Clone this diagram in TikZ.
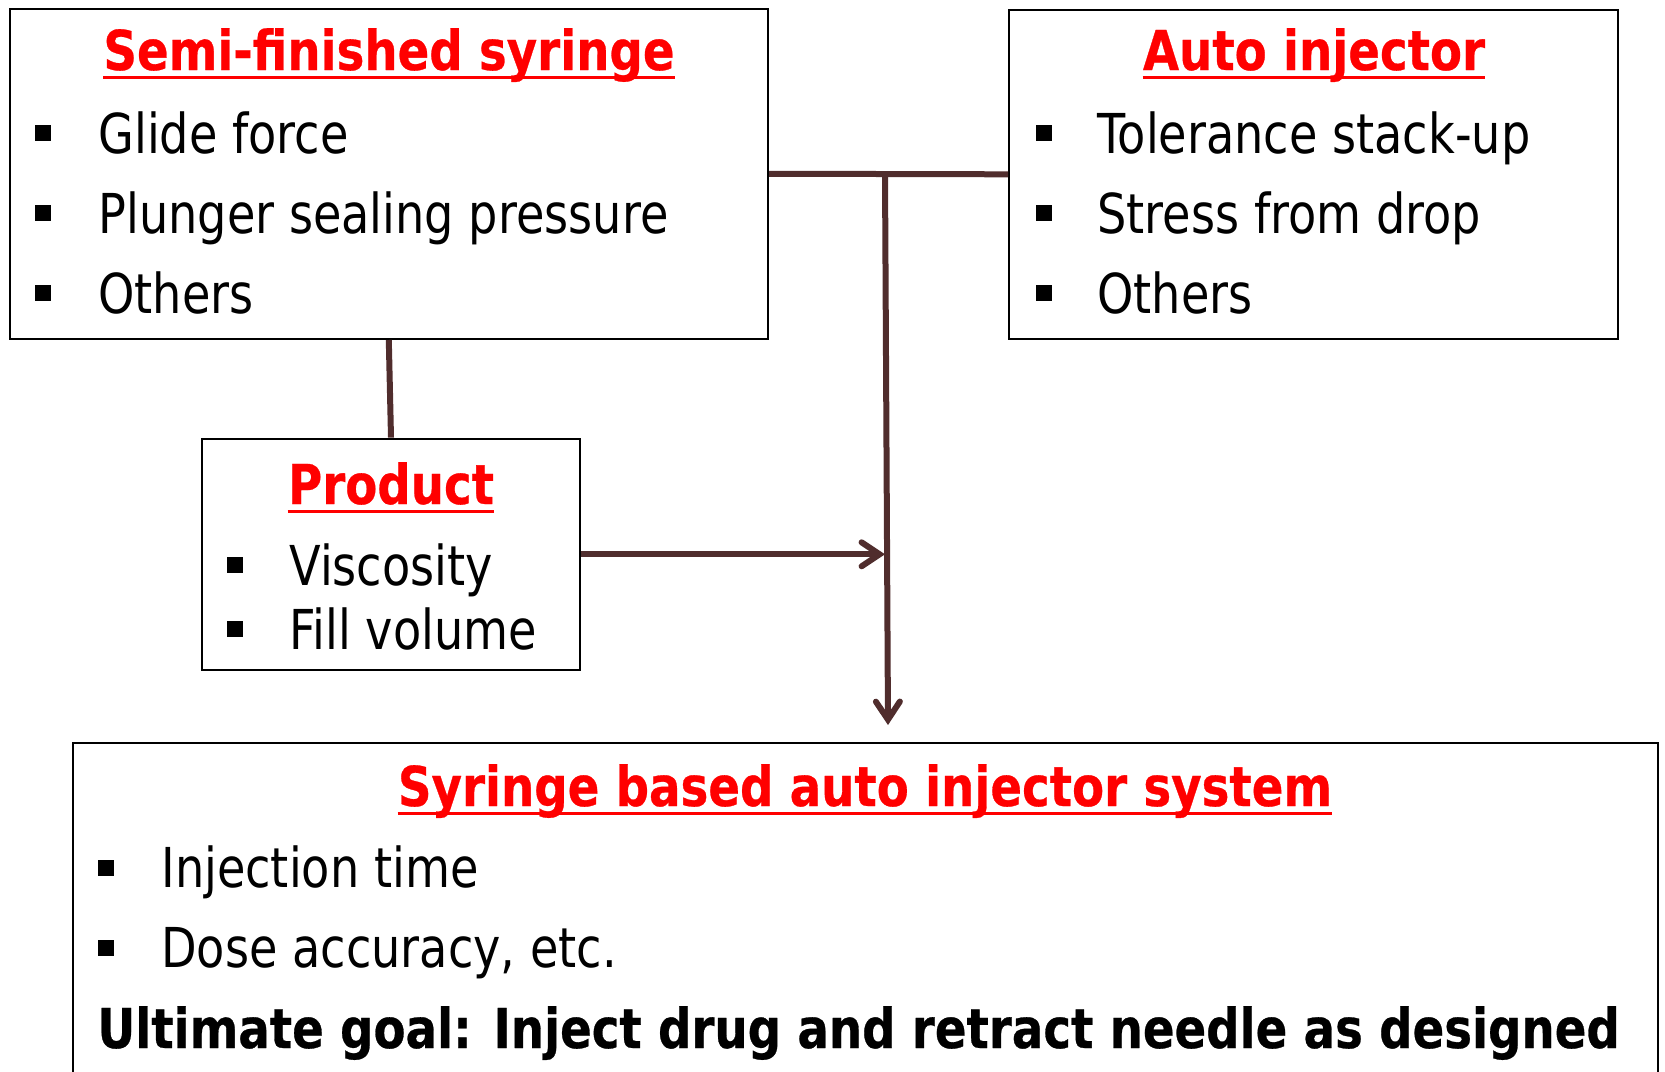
\documentclass[tikz,border=0pt]{standalone}
\usepackage{fontspec}
\setmainfont{DejaVu Sans}[FakeStretch=0.84, BoldFeatures={FakeStretch=0.849, FakeBold=0.5}]
\usetikzlibrary{arrows.meta}
\definecolor{conncol}{RGB}{80,45,45}
\newcommand\fsz{\fontsize{27.5pt}{33pt}\selectfont}
\begin{document}
\begin{tikzpicture}[x=0.5pt,y=-0.5pt,
  box/.style={draw=black, line width=1pt, rectangle, inner sep=0},
  title/.style={anchor=base, inner sep=0, text=red, font=\fsz\bfseries},
  item/.style={anchor=base west, inner sep=0, font=\fsz},
  bolditem/.style={anchor=base west, inner sep=0, font=\fsz\bfseries},
  bul/.style={fill=black, rectangle, minimum size=8pt, inner sep=0},
  ul/.style={red, line width=1.6pt},
  conn/.style={draw=conncol, line width=3pt},
  tip/.style={-{Straight Barb[length=9pt,width=12pt,line cap=round]}}
  ]
\useasboundingbox (0,0) rectangle (1665,1071);
\clip (0,0) rectangle (1665,1071);
% boxes
\node[box, minimum width=379.2pt, minimum height=165.25pt] (b1) at (388.8,173.75) {};
\node[box, minimum width=304.5pt, minimum height=164.7pt] (b2) at (1313.5,174.3) {};
\node[box, minimum width=189pt, minimum height=115.7pt] (pr) at (391,554.3) {};
\node[box, minimum width=792.5pt, minimum height=178.5pt] (bt) at (865.5,921.5) {};
% titles
\node[title] (t1) at (389,70) {Semi-finished syringe};
\node[title] (t2) at (1314,70) {Auto injector};
\node[title] (t3) at (391,504) {Product};
\node[title] (t4) at (865,806) {Syringe based auto injector system};
\foreach \t in {t1,t2,t3,t4}
  \draw[ul] ([yshift=-3.75pt]\t.base west) -- ([yshift=-3.75pt]\t.base east);
% box 1 items
\node[bul] (b1a) at (43,133) {};
\node[bul] (b1b) at (43,213) {};
\node[bul] (b1c) at (43,293) {};
\node[item] (i1a) at (98,153) {Glide force};
\node[item] (i1b) at (98,233) {Plunger sealing pressure};
\node[item] (i1c) at (98,313) {Others};
% box 2 items
\node[bul] (b2a) at (1044,133) {};
\node[bul] (b2b) at (1044,213) {};
\node[bul] (b2c) at (1044,293) {};
\node[item] (i2a) at (1097,153) {Tolerance stack-up};
\node[item] (i2b) at (1097,233) {Stress from drop};
\node[item] (i2c) at (1097,313) {Others};
% product items
\node[bul] (b3a) at (235,565) {};
\node[bul] (b3b) at (235,629) {};
\node[item] (i3a) at (289,585) {Viscosity};
\node[item] (i3b) at (289,649) {Fill volume};
% bottom items
\node[bul] (b4a) at (106,868) {};
\node[bul] (b4b) at (106,948) {};
\node[item] (i4a) at (161,887) {Injection time};
\node[item] (i4b) at (161,967) {Dose accuracy, etc.};
\node[bolditem] (i4c) at (97,1048) {Ultimate goal: Inject drug and retract needle as designed};
% connectors
\coordinate (jn) at (885,174);
\coordinate (end) at (888,725);
\draw[conn] (b1.east) -- (b2.west);
\draw[conn] (b1.south) -- (pr.north);
\draw[conn, tip] (jn) -- (end);
\draw[conn, tip] (pr.east) -- (pr.east -| jn);
\end{tikzpicture}
\end{document}
